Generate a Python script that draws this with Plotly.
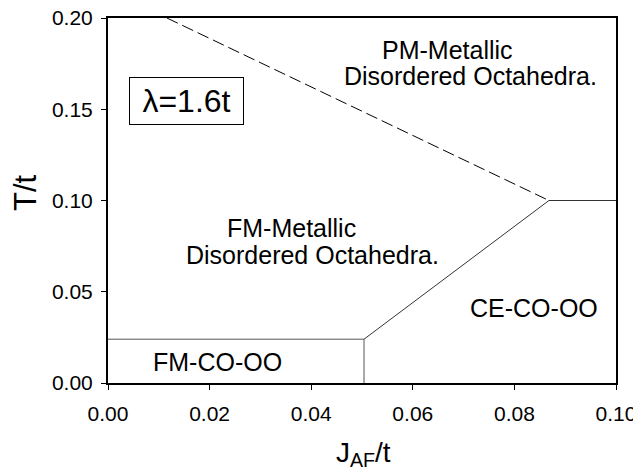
import plotly.graph_objects as go

# Phase boundaries (J_AF/t, T/t)
dashed_x = [0.0116, 0.0868]
dashed_y = [0.20, 0.10]
diag_x = [0.0504, 0.0868, 0.10]
diag_y = [0.024, 0.10, 0.10]
fmco_x = [0.0, 0.0504, 0.0504]
fmco_y = [0.024, 0.024, 0.0]

x_ticks = [0.00, 0.02, 0.04, 0.06, 0.08, 0.10]
y_ticks = [0.00, 0.05, 0.10, 0.15, 0.20]

FONT = "Liberation Sans, Arial, sans-serif"

fig = go.Figure()
fig.add_trace(go.Scatter(x=dashed_x, y=dashed_y, mode="lines",
                         line=dict(color="black", width=1, dash="12px,5px"),
                         showlegend=False, hoverinfo="skip"))
fig.add_trace(go.Scatter(x=diag_x, y=diag_y, mode="lines",
                         line=dict(color="#333333", width=1),
                         showlegend=False, hoverinfo="skip"))
fig.add_trace(go.Scatter(x=fmco_x, y=fmco_y, mode="lines",
                         line=dict(color="#555555", width=1),
                         showlegend=False, hoverinfo="skip"))

labels = [
    ("PM-Metallic", 0.0669, 0.1824),
    ("Disordered Octahedra.", 0.0713, 0.1680),
    ("FM-Metallic", 0.0362, 0.0849),
    ("Disordered Octahedra.", 0.0403, 0.0701),
    ("FM-CO-OO", 0.0215, 0.0115),
    ("CE-CO-OO", 0.0839, 0.0411),
]
for txt, lx, ly in labels:
    fig.add_annotation(x=lx, y=ly, text=txt, showarrow=False,
                       font=dict(family=FONT, size=25, color="black"),
                       xanchor="center", yanchor="middle", height=24)

fig.add_annotation(x=(186.5 - 108) / 508 * 0.1, y=(383 - 101) / 365 * 0.2,
                   text="λ=1.6t", showarrow=False,
                   font=dict(family=FONT, size=32, color="black"),
                   xanchor="center", yanchor="middle",
                   width=105, height=38,
                   bordercolor="black", borderwidth=1, borderpad=4,
                   bgcolor="white")

# axis titles
fig.add_annotation(xref="paper", yref="paper", x=(25 - 108) / 508, y=(383 - 193) / 365,
                   text="T/t", textangle=-90, showarrow=False,
                   font=dict(family=FONT, size=31, color="black"),
                   xanchor="center", yanchor="middle", height=30)
fig.add_annotation(xref="paper", yref="paper", x=(363 - 108) / 508, y=(383 - 454) / 365,
                   text="J<sub>AF</sub>/t", showarrow=False,
                   font=dict(family=FONT, size=28, color="black"),
                   xanchor="center", yanchor="middle", height=30)

axis_common = dict(showgrid=False, zeroline=False, showline=True, linecolor="black",
                   linewidth=2, mirror=True, ticks="outside", ticklen=5, tickwidth=1,
                   tickcolor="black", automargin=False, ticklabeloverflow="allow",
                   tickfont=dict(family=FONT, size=21, color="black"))
fig.update_xaxes(range=[0, 0.10], tickvals=x_ticks, tickformat=".2f",
                 ticklabelstandoff=6, **axis_common)
fig.update_yaxes(range=[0, 0.20], tickvals=y_ticks, tickformat=".2f",
                 ticklabelstandoff=4, **axis_common)

# the page body adds an 8px offset; size the figure so the plot area lands where the reference's does
fig.update_layout(width=633, height=463, plot_bgcolor="white", paper_bgcolor="white",
                  margin=dict(l=100, r=25, t=10, b=88, autoexpand=False),
                  font=dict(family=FONT))
fig.write_html("out.html")
